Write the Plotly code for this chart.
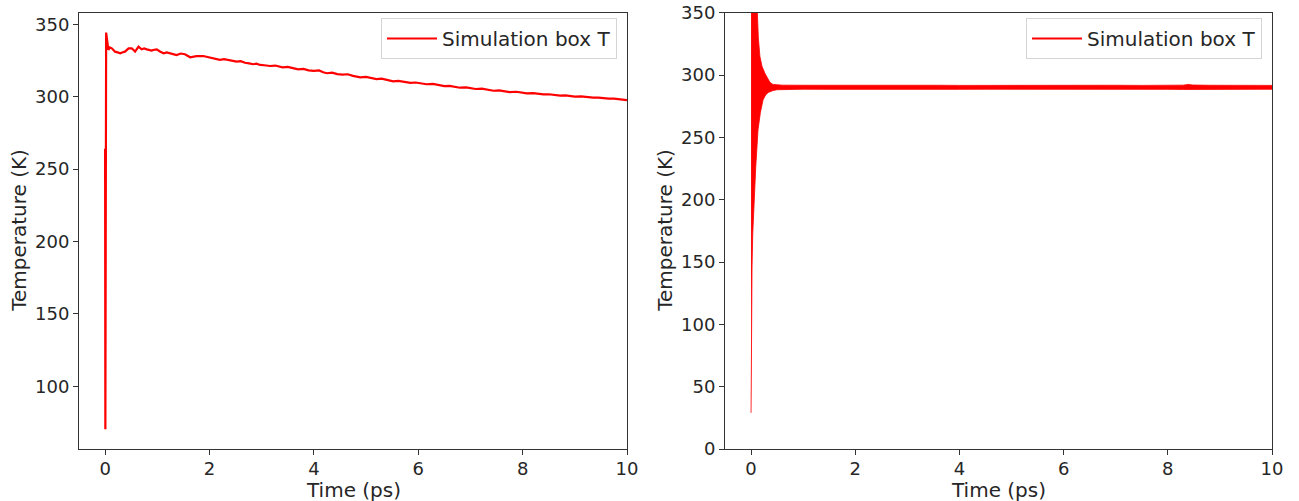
import plotly.graph_objects as go

# ---- Left panel: simulation box temperature (K) vs time (ps) ----
left_time = [0.0, 0.005, 0.02, 0.04, 0.063, 0.09, 0.128, 0.16, 0.19, 0.24, 0.29, 0.34,
             0.38, 0.45, 0.51, 0.575, 0.64, 0.70, 0.75, 0.80, 0.85, 0.89, 0.94, 0.99,
             1.05, 1.12, 1.18, 1.25, 1.31, 1.37, 1.45, 1.53, 1.63, 1.75, 1.88, 2.0,
             2.1, 2.2, 2.28, 2.35, 2.44, 2.52, 2.6, 2.68, 2.76, 2.84, 2.9, 2.97, 3.05,
             3.16, 3.26, 3.4, 3.5, 3.6, 3.7, 3.8, 3.9, 4.0, 4.1, 4.18, 4.25, 4.35, 4.45,
             4.55, 4.65, 4.75, 4.89, 5.0, 5.1, 5.2, 5.3, 5.42, 5.52, 5.62, 5.75, 5.85,
             5.95, 6.05, 6.16, 6.28, 6.4, 6.5, 6.6, 6.7, 6.8, 6.92, 7.0, 7.1, 7.22, 7.32,
             7.44, 7.55, 7.65, 7.75, 7.88, 7.98, 8.08, 8.2, 8.3, 8.4, 8.5, 8.6, 8.72,
             8.82, 8.92, 9.0, 9.12, 9.22, 9.35, 9.45, 9.55, 9.65, 9.75, 9.86, 9.96, 10.0]
left_temp = [264.0, 70.4, 344.3, 336.0, 332.3, 334.0, 333.4, 332.2, 331.1, 330.6, 330.0, 330.7,
             331.1, 333.4, 333.4, 331.1, 334.5, 332.7, 333.3, 332.7, 332.0, 331.8, 332.4, 332.7,
             331.2, 330.0, 330.6, 330.0, 329.4, 328.8, 329.8, 329.3, 327.2, 328.0, 328.1, 327.2,
             326.4, 325.4, 325.9, 325.3, 324.6, 324.2, 324.5, 323.4, 323.0, 322.4, 322.8, 321.9, 321.7,
             321.2, 321.5, 320.3, 320.6, 319.8, 318.9, 319.2, 318.2, 317.8, 318.1, 316.9, 316.2, 316.6,
             315.6, 315.3, 315.5, 314.4, 313.4, 313.7, 312.8, 312.2, 312.5, 311.3, 310.6, 310.9,
             310.0, 309.6, 309.8, 309.0, 308.6, 308.8, 307.9, 307.3, 307.5, 306.7, 306.2, 306.4,
             305.7, 305.3, 305.5, 304.7, 304.1, 304.3, 303.6, 303.2, 303.4, 302.7, 302.3, 302.4,
             301.8, 301.6, 301.7, 301.1, 300.7, 300.9, 300.3, 300.1, 300.2, 299.6, 299.3, 299.4,
             298.9, 298.6, 298.7, 298.1, 297.7, 297.6]

# ---- Right panel: thermostatted run, oscillation envelope and mean ----
right_upper_time = [0.0, 0.06, 0.115, 0.14, 0.17, 0.21, 0.27, 0.32, 0.365, 0.42, 0.5,
                    0.6, 1.0, 1.5, 2.0, 2.5, 3.0, 3.2, 3.28, 3.36, 3.6, 4.0, 4.5, 5.0, 5.5,
                    6.0, 6.5, 7.0, 7.5, 8.0, 8.3, 8.39, 8.48, 8.8, 9.2, 9.6, 10.0]
right_upper = [480.0, 410.0, 350.0, 330.0, 315.0, 307.0, 301.0, 297.0, 294.0, 292.5, 292.0,
               291.9, 291.8, 291.9, 291.7, 291.8, 291.9, 291.8, 292.3, 291.9, 291.8, 291.7, 291.8, 291.9, 291.7,
               291.8, 291.7, 291.8, 291.7, 291.8, 291.9, 292.5, 292.0, 291.8, 291.7, 291.8, 291.7]
right_lower_time = [0.0, 0.006, 0.019, 0.033, 0.058, 0.09, 0.134, 0.18, 0.23, 0.28, 0.33, 0.42,
                    0.5, 0.6, 1.0, 1.5, 2.0, 2.5, 3.0, 3.2, 3.28, 3.36, 3.6, 4.0, 4.5, 5.0, 5.5,
                    6.0, 6.5, 7.0, 7.5, 8.0, 8.3, 8.39, 8.48, 8.8, 9.2, 9.6, 10.0]
right_lower = [29.0, 93.0, 146.0, 173.0, 199.0, 226.0, 256.0, 270.0, 280.0, 284.0, 286.0, 287.5,
               288.2, 288.5, 288.6, 288.5, 288.6, 288.5, 288.6, 288.5, 288.1, 288.5, 288.6, 288.5, 288.6, 288.5, 288.6,
               288.5, 288.6, 288.5, 288.6, 288.5, 288.4, 287.9, 288.4, 288.5, 288.6, 288.5, 288.6]
right_mean_time = [0.5, 1.0, 2.0, 3.0, 4.0, 5.0, 6.0, 7.0, 8.0, 9.0, 10.0]
right_mean = [290.2, 290.2, 290.2, 290.2, 290.1, 290.2, 290.2, 290.1, 290.2, 290.2, 290.1]

x_ticks = [0, 2, 4, 6, 8, 10]
left_y_ticks = [100, 150, 200, 250, 300, 350]
right_y_ticks = [0, 50, 100, 150, 200, 250, 300, 350]

RED = "#ff0000"
INK = "#262626"
FONT = "DejaVu Sans"
TICK_FS = 18
LABEL_FS = 20
W, H = 1299, 501

fig = go.Figure()

fig.add_trace(go.Scatter(
    x=left_time, y=left_temp, mode="lines",
    line=dict(color=RED, width=2.2),
    name="Simulation box T", xaxis="x", yaxis="y", legend="legend",
))

# oscillation band drawn as a closed envelope
band_x = right_upper_time + right_lower_time[::-1]
band_y = right_upper + right_lower[::-1]
fig.add_trace(go.Scatter(
    x=band_x, y=band_y, mode="lines", fill="toself",
    fillcolor=RED, line=dict(color=RED, width=0.8),
    showlegend=False, xaxis="x2", yaxis="y2", hoverinfo="skip",
))
fig.add_trace(go.Scatter(
    x=right_mean_time, y=right_mean, mode="lines",
    line=dict(color=RED, width=2),
    name="Simulation box T", xaxis="x2", yaxis="y2", legend="legend2",
))

# plot areas in pixels
L1, R1 = 79, 627
L2, R2 = 725, 1272
TOP, BOT = 12.7, 449


def px_x(p):
    return p / W


def px_y(p):
    return 1 - p / H


axis_common = dict(
    showline=True, mirror=True, linecolor="#333333", linewidth=1,
    ticks="outside", ticklen=5, tickwidth=1, tickcolor="#333333",
    showgrid=False, zeroline=False, automargin=False,
    tickfont=dict(family=FONT, size=TICK_FS, color=INK),
)
x_axis_extra = dict(ticklabelstandoff=-2)

legend_common = dict(
    xanchor="right", yanchor="top", bgcolor="white",
    bordercolor="#d5d5d5", borderwidth=1, itemwidth=50,
    font=dict(family=FONT, size=LABEL_FS, color=INK),
)

fig.update_layout(
    width=W, height=H, autosize=False,
    margin=dict(l=0, r=0, t=0, b=0, autoexpand=False),
    paper_bgcolor="white", plot_bgcolor="white",
    font=dict(family=FONT, size=LABEL_FS, color=INK),
    xaxis=dict(domain=[px_x(L1), px_x(R1)], range=[-0.5, 10], tickvals=x_ticks,
               anchor="y", **axis_common, **x_axis_extra),
    yaxis=dict(domain=[px_y(BOT), px_y(TOP)], range=[56.7, 358.0], tickvals=left_y_ticks,
               anchor="x", **axis_common),
    xaxis2=dict(domain=[px_x(L2), px_x(R2)], range=[-0.5, 10], tickvals=x_ticks,
                anchor="y2", **axis_common, **x_axis_extra),
    yaxis2=dict(domain=[px_y(BOT), px_y(TOP)], range=[0, 350], tickvals=right_y_ticks,
                anchor="x2", **axis_common),
    legend=dict(x=px_x(617), y=px_y(18), **legend_common),
    legend2=dict(x=px_x(1262), y=px_y(18), **legend_common),
    annotations=[
        dict(text="Time (ps)", x=px_x((L1 + R1) / 2), y=px_y(490), xref="paper", yref="paper",
             showarrow=False, xanchor="center", yanchor="middle",
             font=dict(family=FONT, size=LABEL_FS, color=INK)),
        dict(text="Time (ps)", x=px_x((L2 + R2) / 2), y=px_y(490), xref="paper", yref="paper",
             showarrow=False, xanchor="center", yanchor="middle",
             font=dict(family=FONT, size=LABEL_FS, color=INK)),
        dict(text="Temperature (K)", x=px_x(19), y=px_y((TOP + BOT) / 2), xref="paper", yref="paper",
             showarrow=False, xanchor="center", yanchor="middle", textangle=-90,
             font=dict(family=FONT, size=LABEL_FS, color=INK)),
        dict(text="Temperature (K)", x=px_x(665), y=px_y((TOP + BOT) / 2), xref="paper", yref="paper",
             showarrow=False, xanchor="center", yanchor="middle", textangle=-90,
             font=dict(family=FONT, size=LABEL_FS, color=INK)),
    ],
)

fig.write_html("out.html")
